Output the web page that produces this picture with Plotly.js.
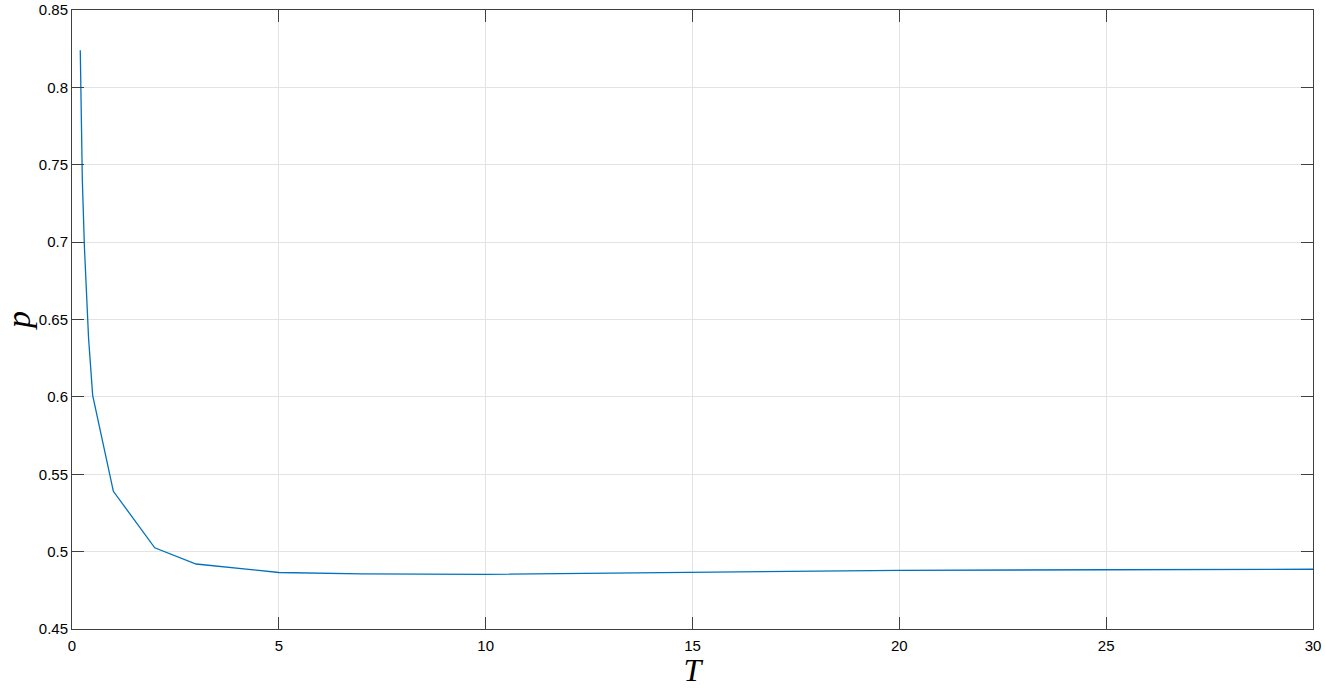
<!DOCTYPE html>
<html>
<head>
<meta charset="utf-8">
<script src="https://cdn.plot.ly/plotly-3.0.1.min.js"></script>
<style>
html,body{margin:0;padding:0;background:#fff;}
#chart{width:1325px;height:688px;}
</style>
</head>
<body>
<div id="chart"></div>
<script>
const T = [0.2, 0.25, 0.3, 0.4, 0.5, 1, 2, 3, 5, 7, 10, 15, 20, 25, 30];
const p = [0.824, 0.740, 0.697, 0.638, 0.601, 0.539, 0.5025, 0.492, 0.4865, 0.4856, 0.4853, 0.4866, 0.4879, 0.4883, 0.4886];

const xTickVals = [0, 5, 10, 15, 20, 25, 30];
const xTickText = ['0', '5', '10', '15', '20', '25', '30'];
const yTickVals = [0.45, 0.5, 0.55, 0.6, 0.65, 0.7, 0.75, 0.8, 0.85];
const yTickText = ['0.45', '0.5', '0.55', '0.6', '0.65', '0.7', '0.75', '0.8', '0.85'];

const axisCommon = {
  showline: true,
  linecolor: '#404040',
  linewidth: 1,
  mirror: 'ticks',
  ticks: 'inside',
  ticklen: 12,
  tickwidth: 1,
  tickcolor: '#404040',
  showgrid: true,
  gridcolor: '#e3e3e3',
  gridwidth: 1,
  zeroline: false,
  tickfont: {family: 'Liberation Sans, Arial, sans-serif', size: 15, color: '#000'}
};

const data = [{
  x: T, y: p,
  type: 'scatter', mode: 'lines',
  line: {color: '#0072BD', width: 1.3},
  hoverinfo: 'x+y'
}];

const layout = {
  width: 1325, height: 688,
  margin: {l: 72, r: 12, t: 10, b: 59},
  paper_bgcolor: '#fff', plot_bgcolor: '#fff',
  showlegend: false,
  xaxis: Object.assign({}, axisCommon, {
    range: [0, 30],
    tickmode: 'array', tickvals: xTickVals, ticktext: xTickText,
    ticklabelstandoff: 3,
    title: {text: 'T', font: {family: 'Liberation Serif, Times New Roman, serif', size: 32, color: '#000', style: 'italic'}, standoff: 9}
  }),
  yaxis: Object.assign({}, axisCommon, {
    range: [0.45, 0.85],
    tickmode: 'array', tickvals: yTickVals, ticktext: yTickText,
    title: {text: 'p', font: {family: 'Liberation Serif, Times New Roman, serif', size: 34, color: '#000', style: 'italic'}, standoff: 8}
  })
};

Plotly.newPlot('chart', data, layout, {displayModeBar: false, staticPlot: true});
</script>
</body>
</html>
